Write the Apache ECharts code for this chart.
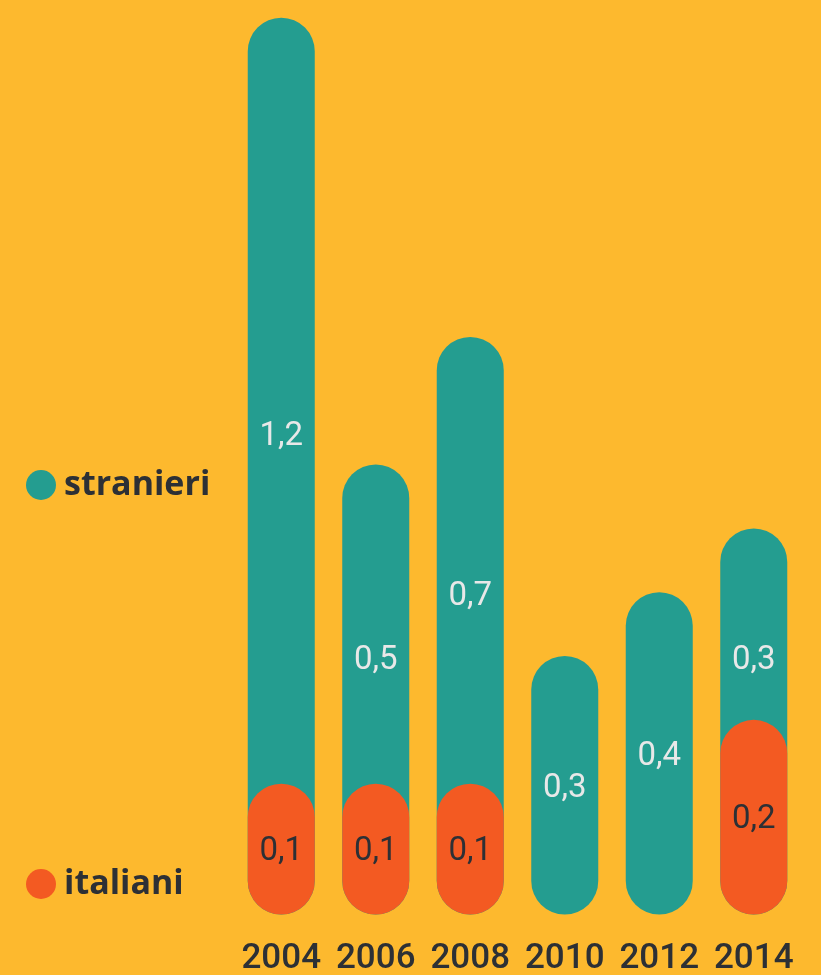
<!DOCTYPE html>
<html>
<head>
<meta charset="utf-8">
<script src="https://cdn.jsdelivr.net/npm/echarts@6/dist/echarts.min.js"></script>
<style>
html,body{margin:0;padding:0;background:#FDB92E;}
#chart{width:821px;height:975px;}
</style>
</head>
<body>
<div id="chart"></div>
<script>
const years = ['2004','2006','2008','2010','2012','2014'];
const stranieri = [1.2, 0.5, 0.7, 0.3, 0.4, 0.3];
const italiani = [0.1, 0.1, 0.1, 0, 0, 0.2];

const TEAL = '#249D90';
const ORANGE = '#F35A22';
const BAR_W = 67;

function fmt(v){ return String(v).replace('.', ','); }

const straData = years.map((y, i) => [i, italiani[i], italiani[i] + stranieri[i], stranieri[i]]);
const itaData = years.map((y, i) => [i, 0, italiani[i], italiani[i]]);

function makeRender(color, labelColor){
  return function(params, api){
    const idx = api.value(0);
    const base = api.value(1);
    const top = api.value(2);
    const val = api.value(3);
    if (!val) return null;
    const p0 = api.coord([idx, 0]);
    const pTop = api.coord([idx, top]);
    const pBase = api.coord([idx, base]);
    const r = BAR_W / 2;
    const y1 = pTop[1] - r;
    const y2 = p0[1] + r;
    return {
      type: 'group',
      children: [
        {
          type: 'rect',
          shape: {x: p0[0] - r, y: y1, width: BAR_W, height: y2 - y1, r: r},
          style: {fill: color}
        },
        {
          type: 'text',
          style: {
            text: fmt(val),
            x: p0[0],
            y: (pTop[1] + pBase[1]) / 2 + 3,
            align: 'center',
            verticalAlign: 'middle',
            fill: labelColor,
            font: '400 33px Roboto'
          }
        }
      ]
    };
  };
}

const chart = echarts.init(document.getElementById('chart'));
chart.setOption({
  backgroundColor: '#FDB92E',
  animation: false,
  legend: [
    {
      data: ['stranieri'], left: 26, top: 468, padding: 0,
      icon: 'circle', itemWidth: 30, itemHeight: 30, selectedMode: false,
      textStyle: {fontFamily: 'Open Sans', fontWeight: 'bold', fontSize: 34, color: '#2D3035', padding: [0,0,0,3]}
    },
    {
      data: ['italiani'], left: 26, top: 867, padding: 0,
      icon: 'circle', itemWidth: 30, itemHeight: 30, selectedMode: false,
      textStyle: {fontFamily: 'Open Sans', fontWeight: 'bold', fontSize: 34, color: '#2D3035', padding: [0,0,0,3]}
    }
  ],
  grid: {left: 234, right: 20, top: 51.3, bottom: 93, containLabel: false},
  xAxis: {
    type: 'category',
    data: years,
    axisLine: {show: false},
    axisTick: {show: false},
    axisLabel: {interval: 0, fontFamily: '"Roboto Medium", Roboto', fontWeight: 500, fontSize: 35, color: '#2D3035', margin: 59}
  },
  yAxis: {
    type: 'value', min: 0, max: 1.3, show: false, splitLine: {show: false}
  },
  series: [
    {
      name: 'stranieri', type: 'custom',
      itemStyle: {color: TEAL},
      encode: {x: 0, y: [1, 2]},
      renderItem: makeRender(TEAL, '#E8E8E8'),
      data: straData
    },
    {
      name: 'italiani', type: 'custom',
      itemStyle: {color: ORANGE},
      encode: {x: 0, y: [1, 2]},
      renderItem: makeRender(ORANGE, '#2D3035'),
      data: itaData
    }
  ]
});
</script>
</body>
</html>
